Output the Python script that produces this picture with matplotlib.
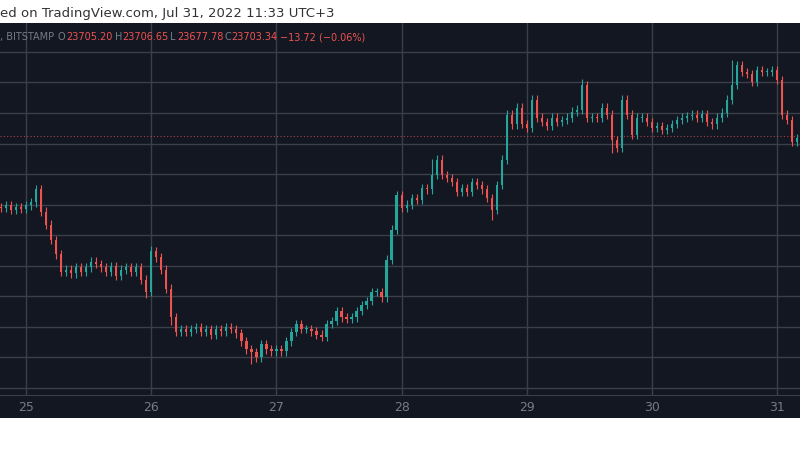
import matplotlib
matplotlib.use("Agg")
import matplotlib.pyplot as plt
import numpy as np

# ---------------------------------------------------------------------------
# Data (BTC/USD, Bitstamp, ~hourly candles, Jul 25 - Jul 31 2022)
# ---------------------------------------------------------------------------
START_DAY = 24.80
STEP_DAY = 0.04
OPEN0 = 22770
CLOSES = [
    22760, 22790, 22730, 22770, 22750, 22790, 22830, 23000, 22710, 22540,
    22340, 22150, 21925, 21950, 21900, 21980, 21925, 21980, 22055, 22020,
    21980, 21925, 22000, 21870, 21950, 21980, 21925, 21980, 21820, 21660,
    22190, 22110, 21950, 21700, 21330, 21130, 21170, 21130, 21170, 21195,
    21130, 21170, 21100, 21170, 21140, 21195, 21170, 21115, 21010, 20905,
    20865, 20800, 20970, 20905, 20880, 20905, 20880, 21010, 21130, 21235,
    21170, 21170, 21140, 21100, 21065, 21235, 21275, 21405, 21325, 21300,
    21325, 21405, 21485, 21535, 21660, 21660, 21585, 22080, 22475, 22930,
    22760, 22800, 22890, 22865, 23020, 23000, 23190, 23390, 23190, 23150,
    23100, 22970, 23020, 22970, 23100, 23060, 23000, 22890, 22735, 23060,
    23390, 23980, 23850, 24070, 23860, 23810, 24175, 23940, 23885, 23835,
    23940, 23885, 23910, 23940, 24020, 24045, 24370, 23940, 23950, 23940,
    24070, 23980, 23650, 23545, 24175, 23980, 23715, 23940, 23940, 23885,
    23805, 23830, 23780, 23805, 23860, 23910, 23940, 23965, 23980, 23940,
    23990, 23885, 23850, 23940, 24005, 24175, 24370, 24630, 24540, 24510,
    24410, 24565, 24540, 24540, 24565, 24435, 23980, 23910, 23625, 23675,
    23730, 23780, 23703,
]
# long wicks (candle index -> extreme price)
LONG_LOWS = {29: 21580, 50: 20720, 34: 21230, 98: 22600, 122: 23480}
LONG_HIGHS = {7: 23060, 30: 22260, 86: 23400, 116: 24450, 146: 24690}
WICK = 55
LAST_PRICE = 23703.34
Y_GRID = [20400, 20800, 21200, 21600, 22000, 22400, 22800, 23200, 23600,
          24000, 24400, 24800]
DAYS = [25, 26, 27, 28, 29, 30, 31]

BG = "#131722"
GRID = "#3b3f4a"
UP = "#26a69a"
DOWN = "#ef5350"
TXT = "#787b86"

fig = plt.figure(figsize=(8, 4.5), dpi=100)
fig.patch.set_facecolor("white")

ax = fig.add_axes([0, 55 / 450, 1, 372 / 450])
ax.set_facecolor(BG)
ax.set_xlim(24.792, 31.182)
ax.set_ylim(20308, 25179)
for s in ax.spines.values():
    s.set_visible(False)
ax.set_xticks([])
ax.set_yticks([])
for y in Y_GRID:
    ax.axhline(y, color=GRID, lw=1, zorder=0)
for d in DAYS:
    ax.axvline(d, color=GRID, lw=1, zorder=0)

closes = np.array(CLOSES, dtype=float)
opens = np.concatenate([[OPEN0], closes[:-1]])
times = START_DAY + STEP_DAY * np.arange(len(closes))
for i, (t, o, c) in enumerate(zip(times, opens, closes)):
    col = UP if c >= o else DOWN
    hi = max(LONG_HIGHS.get(i, 0), max(o, c) + WICK)
    lo = min(LONG_LOWS.get(i, 1e9), min(o, c) - WICK)
    ax.vlines(t, lo, hi, color=col, lw=0.8, zorder=2)
    ax.bar(t, max(abs(c - o), 10), bottom=min(o, c), width=STEP_DAY * 0.45,
           color=col, edgecolor=col, lw=0, zorder=3)
ax.axhline(LAST_PRICE, color=DOWN, lw=0.8, ls=(0, (1, 2)), alpha=0.7, zorder=1)

# time axis band
bx = fig.add_axes([0, 32 / 450, 1, 23 / 450])
bx.set_facecolor(BG)
bx.set_xlim(ax.get_xlim())
bx.set_ylim(0, 1)
bx.set_xticks([])
bx.set_yticks([])
for s in bx.spines.values():
    s.set_visible(False)
bx.axhline(1, color=GRID, lw=1.5)
for d in DAYS:
    bx.text(d, 0.45, str(d), color=TXT, fontsize=9, ha="center", va="center")

# header texts
fig.text(0, 1 - 13 / 450, "ed on TradingView.com, Jul 31, 2022 11:33 UTC+3",
         color="#333333", fontsize=9.5, va="center")
ty = 1 - 37 / 450
fig.text(0, ty, ", BITSTAMP", color=TXT, fontsize=7, va="center")
parts = [(58, "O", TXT), (66, "23705.20", DOWN), (115, "H", TXT),
         (122, "23706.65", DOWN), (170, "L", TXT), (177, "23677.78", DOWN),
         (224, "C", TXT), (231, "23703.34", DOWN), (280, "\u221213.72 (\u22120.06%)", DOWN)]
for px, s, c in parts:
    fig.text(px / 800, ty, s, color=c, fontsize=7, va="center")

fig.savefig("out.png", dpi=100, facecolor=fig.get_facecolor())
